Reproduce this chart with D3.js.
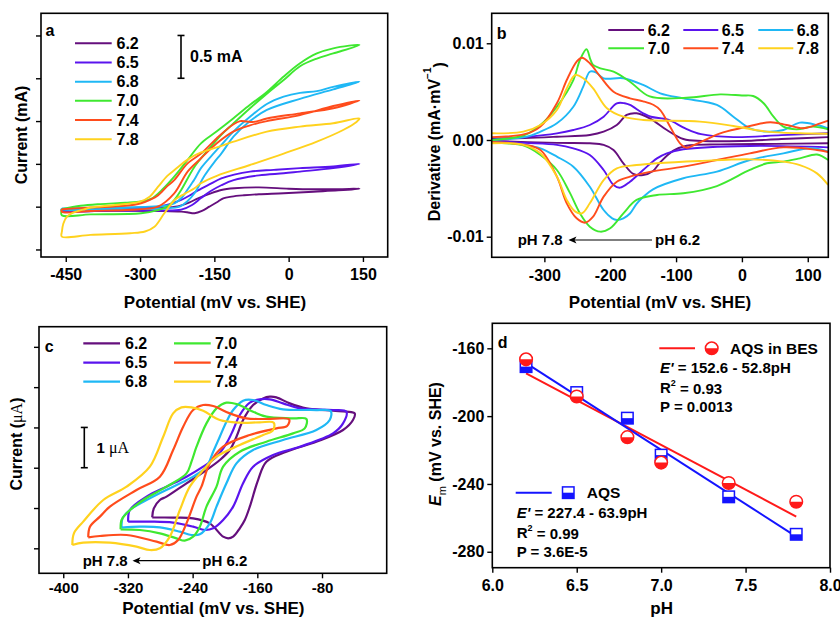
<!DOCTYPE html>
<html><head><meta charset="utf-8">
<script src="https://cdn.jsdelivr.net/npm/d3@7"></script>
<style>
body{margin:0;background:#fff}
svg text{font-family:"Liberation Sans",Arial,sans-serif;font-weight:bold;fill:#000}
</style>
</head><body>
<svg id="chart" width="840" height="618"></svg>
<script>
// ---------------- DATA ----------------
const phLabels = ["6.2","6.5","6.8","7.0","7.4","7.8"];

// Panel a: CV loops (mV vs SHE, mA) - forward branch then return branch
const aCV62 = [[-458,-0.035],[-350,-0.03],[-270,-0.02],[-244,-0.01],[-220,0.01],[-200,0.05],[-183,0.098],[-160,0.15],[-136,0.195],[-110,0.215],[-60,0.225],[0,0.21],[50,0.203],[100,0.205],[143,0.21],
  [100,0.19],[50,0.175],[-10,0.156],[-60,0.145],[-90,0.133],[-115,0.118],[-132,0.098],[-143,0.058],[-160,0.0],[-175,-0.05],[-190,-0.077],[-205,-0.065],[-217,-0.058],[-250,-0.05],[-350,-0.047],[-458,-0.045]];
const aCV65 = [[-458,-0.03],[-350,-0.02],[-290,-0.01],[-264,0.0],[-240,0.03],[-217,0.078],[-200,0.13],[-183,0.19],[-160,0.26],[-136,0.33],[-110,0.375],[-78,0.41],[-30,0.43],[23,0.45],[90,0.47],[143,0.5],
  [90,0.45],[23,0.41],[-10,0.39],[-60,0.365],[-111,0.31],[-136,0.25],[-158,0.18],[-177,0.1],[-195,0.02],[-217,-0.035],[-260,-0.045],[-350,-0.045],[-458,-0.045]];
const aCV68 = [[-458,-0.02],[-350,-0.01],[-280,0.0],[-250,0.01],[-230,0.04],[-215,0.11],[-204,0.2],[-190,0.32],[-177,0.45],[-150,0.63],[-136,0.72],[-111,0.88],[-78,1.05],[-44,1.2],[-10,1.285],[23,1.33],[57,1.35],[90,1.4],[143,1.46],
  [90,1.37],[23,1.26],[-44,1.13],[-78,1.0],[-111,0.82],[-136,0.62],[-150,0.52],[-170,0.36],[-190,0.156],[-205,0.06],[-220,0.0],[-250,-0.02],[-350,-0.03],[-458,-0.03]];
const aCV70 = [[-458,-0.03],[-420,0.01],[-380,0.03],[-330,0.045],[-298,0.06],[-278,0.09],[-255,0.2],[-231,0.35],[-204,0.545],[-177,0.74],[-145,0.88],[-112,1.03],[-78,1.19],[-44,1.34],[-10,1.52],[23,1.675],[57,1.79],[90,1.85],[143,1.89],
  [90,1.79],[57,1.73],[23,1.64],[-10,1.48],[-44,1.32],[-78,1.15],[-112,0.97],[-136,0.84],[-163,0.66],[-190,0.467],[-217,0.195],[-231,0.078],[-245,0.0],[-264,-0.04],[-298,-0.077],[-400,-0.09],[-458,-0.1]];
const aCV74 = [[-458,-0.03],[-400,-0.01],[-330,0.01],[-298,0.04],[-280,0.08],[-264,0.13],[-245,0.24],[-231,0.31],[-204,0.506],[-177,0.62],[-145,0.8],[-112,0.96],[-98,1.0],[-85,0.995],[-70,0.99],[-44,1.03],[23,1.09],[90,1.15],[143,1.24],
  [90,1.176],[23,1.07],[-44,1.0],[-78,0.95],[-112,0.876],[-145,0.74],[-177,0.565],[-204,0.41],[-231,0.156],[-264,0.0],[-300,-0.03],[-400,-0.05],[-458,-0.06]];
const aCV78 = [[-458,-0.30],[-455,-0.2],[-448,-0.12],[-435,-0.07],[-415,-0.035],[-399,-0.01],[-350,0.02],[-300,0.06],[-280,0.12],[-264,0.23],[-245,0.36],[-230,0.43],[-204,0.55],[-178,0.63],[-136,0.71],[-111,0.76],[-44,0.876],[23,0.935],[90,0.975],[143,1.03],
  [137,0.99],[110,0.896],[57,0.76],[-10,0.62],[-78,0.487],[-145,0.36],[-178,0.27],[-190,0.215],[-210,0.15],[-230,0.078],[-251,-0.077],[-271,-0.234],[-290,-0.29],[-320,-0.31],[-400,-0.33],[-458,-0.35]];
const aXTicks = [-450,-300,-150,0,150];
const aYTicks = [-0.5,0,0.5,1.0,1.5,2.0];

// Panel b: derivative (mV, value x 1e-3 mA/mV), upper and lower branches
const b62up = [[-380,0.15],[-330,0.2],[-281,0.34],[-231,0.52],[-210,0.86],[-190,1.55],[-175,2.59],[-160,2.76],[-140,2.24],[-114,1.03],[-89,0.1],[-60,-0.1],[0,-0.1],[60,0.1],[131,0.3]];
const b62dn = [[-380,-0.1],[-281,-0.3],[-231,-0.34],[-210,-0.5],[-195,-1.03],[-180,-2.41],[-165,-3.5],[-150,-3.62],[-135,-3.2],[-124,-2.3],[-104,-1.1],[-84,-0.6],[-33,-0.45],[50,-0.4],[131,-0.34]];
const b65up = [[-380,0.05],[-330,0.3],[-281,0.69],[-256,1.03],[-231,1.55],[-210,2.41],[-190,3.79],[-178,3.8],[-170,3.62],[-150,2.76],[-138,2.4],[-112,2.1],[-86,1.2],[-62,0.6],[-13,0.3],[60,0.5],[131,0.7]];
const b65dn = [[-380,-0.1],[-330,-0.3],[-281,-0.5],[-256,-0.86],[-231,-1.55],[-210,-3.1],[-195,-4.65],[-185,-4.93],[-170,-4.31],[-150,-3.1],[-129,-1.9],[-114,-1.38],[-89,-0.96],[12,-0.62],[131,-0.76]];
const b68up = [[-380,0.0],[-330,0.3],[-306,0.86],[-281,1.72],[-256,3.44],[-241,5.51],[-231,7.06],[-222,7.0],[-210,6.38],[-180,6.38],[-150,5.69],[-124,4.83],[-89,4.3],[-38,3.62],[-13,2.41],[12,1.21],[38,0.86],[63,1.03],[88,1.79],[114,1.55],[131,1.2]];
const b68dn = [[-380,-0.2],[-330,-0.5],[-306,-0.86],[-281,-1.72],[-256,-2.76],[-231,-4.83],[-210,-7.24],[-197,-8.1],[-190,-8.27],[-180,-8.1],[-170,-7.6],[-160,-6.6],[-150,-5.9],[-135,-5.1],[-89,-3.96],[-38,-3.27],[12,-2.07],[63,-1.38],[104,-0.86],[131,-1.2]];
const b70up = [[-380,0.0],[-330,0.5],[-306,1.55],[-281,3.44],[-256,6.2],[-246,8.27],[-236,9.38],[-230,8.3],[-226,7.76],[-215,7.41],[-195,7.07],[-170,6.03],[-140,4.5],[-84,4.37],[-33,4.72],[0,4.6],[17,4.55],[33,3.8],[48,2.41],[63,1.38],[83,1.1],[108,1.38],[131,1.1]];
const b70dn = [[-380,-0.3],[-330,-0.6],[-306,-1.55],[-281,-3.1],[-261,-5.5],[-246,-7.58],[-231,-8.96],[-215,-9.48],[-200,-9.13],[-180,-7.58],[-160,-6.2],[-129,-5.69],[-89,-5.51],[-38,-4.76],[12,-3.1],[38,-2.41],[63,-2.24],[88,-1.9],[114,-1.5],[131,-2.07]];
const b74up = [[-380,0.3],[-330,0.6],[-306,1.38],[-281,3.79],[-266,6.2],[-251,8.1],[-243,8.51],[-231,7.93],[-215,6.55],[-195,4.99],[-170,4.31],[-150,4.0],[-134,3.62],[-124,3.1],[-109,1.38],[-94,-0.34],[-84,-0.8],[-69,-0.4],[-33,0.69],[-3,1.21],[43,1.83],[68,1.55],[93,1.21],[119,1.72],[131,2.0]];
const b74dn = [[-380,-0.2],[-330,-0.5],[-306,-1.03],[-281,-3.79],[-266,-6.55],[-251,-8.1],[-238,-8.55],[-226,-7.93],[-210,-5.86],[-190,-4.31],[-170,-3.79],[-140,-3.3],[-89,-2.76],[-38,-2.07],[12,-1.38],[63,-0.76],[114,-1.03],[131,-1.24]];
const b78up = [[-380,0.69],[-332,0.86],[-306,1.55],[-281,3.1],[-266,5.34],[-253,6.72],[-241,6.38],[-226,5.34],[-205,3.28],[-180,2.41],[-150,2.07],[-64,1.9],[-13,1.45],[38,0.86],[88,0.69],[131,0.65]];
const b78dn = [[-380,-0.34],[-332,-0.5],[-306,-1.38],[-281,-3.79],[-266,-6.2],[-253,-7.41],[-243,-7.58],[-231,-6.55],[-210,-4.14],[-190,-2.93],[-160,-2.59],[-129,-2.4],[-64,-2.17],[12,-2.0],[63,-2.24],[88,-2.6],[114,-3.45],[131,-4.65]];
const bXTicks = [-300,-200,-100,0,100];
const bYTicks = [0.01,0.0,-0.01];
const bYTickLabels = ["0.01","0.00","-0.01"];

// Panel c: CV loops (mV vs SHE, uA)
const cCV62 = [[-290.0,0.769],[-288.0,0.992],[-280.5,1.199],[-272.3,1.282],[-247.6,1.613],[-222.9,1.943],[-206.4,2.191],[-194.1,2.44],[-185.8,2.77],[-177.6,3.184],[-165.2,3.556],[-152.9,3.721],[-144.6,3.763],[-136.4,3.746],[-119.9,3.597],[-99.3,3.473],[-66.4,3.415],[-49.9,3.391],[-39.6,3.349],
  [-41.7,3.184],[-54.0,2.936],[-87.0,2.646],[-124.1,2.398],[-148.8,2.15],[-159.1,1.695],[-169.3,1.034],[-175.5,0.703],[-181.7,0.496],[-189.9,0.289],[-196.1,0.248],[-202.3,0.289],[-218.8,0.62],[-239.4,0.744],[-264.1,0.761]];
const cCV65 = [[-319.7,0.662],[-317.6,0.951],[-297.0,1.282],[-272.3,1.53],[-247.6,1.778],[-227.0,2.026],[-210.5,2.274],[-198.2,2.605],[-189.9,2.936],[-181.7,3.308],[-169.3,3.614],[-157.0,3.697],[-144.6,3.697],[-128.2,3.597],[-107.6,3.473],[-66.4,3.432],[-49.9,3.391],
  [-54.0,3.101],[-66.4,2.853],[-107.6,2.522],[-140.5,2.315],[-165.2,2.026],[-177.6,1.613],[-189.9,1.034],[-202.3,0.703],[-214.6,0.496],[-224.9,0.455],[-239.4,0.537],[-264.1,0.637],[-292.9,0.662]];
const cCV68 = [[-327.9,0.513],[-326.7,0.744],[-317.6,0.951],[-292.9,1.24],[-264.1,1.53],[-239.4,1.778],[-222.9,2.026],[-214.6,2.398],[-206.4,2.77],[-198.2,3.142],[-189.9,3.432],[-177.6,3.664],[-165.2,3.68],[-148.8,3.556],[-128.2,3.448],[-87.0,3.432],[-69.3,3.407],
  [-70.5,3.184],[-87.0,2.936],[-128.2,2.688],[-165.2,2.44],[-185.8,2.109],[-198.2,1.613],[-210.5,1.034],[-218.8,0.62],[-231.1,0.347],[-241.4,0.331],[-255.8,0.413],[-280.5,0.521],[-305.2,0.537]];
const cCV70 = [[-329.1,0.471],[-327.9,0.703],[-321.7,0.868],[-301.1,1.199],[-272.3,1.53],[-247.6,1.861],[-241.4,2.15],[-235.2,2.522],[-222.9,3.101],[-210.5,3.473],[-198.2,3.614],[-185.8,3.581],[-165.2,3.391],[-148.8,3.267],[-115.8,3.225],[-99.3,3.209],
  [-101.4,2.977],[-115.8,2.853],[-148.8,2.646],[-181.7,2.398],[-202.3,2.026],[-210.5,1.53],[-222.9,1.034],[-231.1,0.537],[-239.4,0.289],[-249.7,0.19],[-260.0,0.248],[-280.5,0.372],[-305.2,0.455]];
const cCV74 = [[-369.1,0.273],[-367.0,0.537],[-354.7,0.786],[-342.3,1.034],[-309.4,1.447],[-280.5,1.778],[-264.1,2.44],[-251.7,3.018],[-239.4,3.432],[-227.0,3.556],[-214.6,3.531],[-194.1,3.349],[-173.5,3.225],[-148.8,3.209],[-120.7,3.2],
  [-123.2,3.035],[-136.4,2.977],[-169.3,2.812],[-202.3,2.522],[-218.8,2.109],[-229.1,1.53],[-235.2,1.282],[-247.6,0.62],[-257.9,0.207],[-268.2,0.083],[-284.6,0.165],[-321.7,0.331],[-354.7,0.306]];
const cCV78 = [[-388.8,0.083],[-386.8,0.372],[-375.3,0.662],[-350.5,1.199],[-321.7,1.53],[-292.9,2.026],[-276.4,2.77],[-264.1,3.349],[-253.8,3.498],[-241.4,3.498],[-227.0,3.415],[-206.4,3.184],[-181.7,3.118],[-157.0,3.126],[-139.7,3.118],
  [-140.5,2.936],[-152.9,2.812],[-181.7,2.564],[-210.5,2.274],[-227.0,1.943],[-243.5,1.53],[-255.8,0.951],[-268.2,0.289],[-280.5,0.0],[-292.9,-0.042],[-309.4,0.041],[-342.3,0.141],[-375.3,0.141]];
const cXTicks = [-400,-320,-240,-160,-80];
const cYTicks = [0,1,2,3,4,5];

// Panel d: midpoint potentials vs pH
const dPH = [6.2,6.5,6.8,7.0,7.4,7.8];
const dBES = [-166.5,-188.4,-212.4,-227.4,-239.4,-250.5];
const dAQS = [-170.8,-186.1,-201.2,-223.0,-247.6,-269.7];
const fitBES = {a:152.6, b:-52.8};
const fitAQS = {a:227.4, b:-63.9};
const dXTicks = [6.0,6.5,7.0,7.5,8.0];
const dYTicks = [-160,-200,-240,-280];

// ---------------- STYLE ----------------
const colors = ["#650f7d","#5a14ee","#1fb8f5","#3fe830","#ff4c1c","#ffd21e"];
const FONT = '"Liberation Sans",Arial,sans-serif';
const svg = d3.select("#chart");
const defs = svg.append("defs");
const smooth = d3.line().curve(d3.curveCatmullRom.alpha(0.5));

function clip(id, x, y) {
  defs.append("clipPath").attr("id", id).append("rect")
    .attr("x", x.range()[0]).attr("y", y.range()[1])
    .attr("width", x.range()[1]-x.range()[0]).attr("height", y.range()[0]-y.range()[1]);
}
function frame(x, y) {
  svg.append("rect").attr("x", x.range()[0]).attr("y", y.range()[1])
    .attr("width", x.range()[1]-x.range()[0]).attr("height", y.range()[0]-y.range()[1])
    .attr("fill","none").attr("stroke","#000").attr("stroke-width",1.6);
}
function styleAxis(g, fs) {
  g.select(".domain").remove();
  g.selectAll("line").attr("stroke","#000").attr("stroke-width",1.4);
  g.selectAll("text").attr("font-size",fs).attr("font-family",FONT).attr("font-weight","bold").attr("fill","#000");
}
function xAxis(x, y, ticks, pad, fs, fmt) {
  const g = svg.append("g").attr("transform",`translate(0,${y.range()[0]})`)
    .call(d3.axisBottom(x).tickValues(ticks).tickSize(5).tickPadding(pad).tickFormat(fmt || (d=>String(d))));
  styleAxis(g, fs);
}
function yAxis(x, y, ticks, fmt, fs) {
  const g = svg.append("g").attr("transform",`translate(${x.range()[0]},0)`)
    .call(d3.axisLeft(y).tickValues(ticks).tickSize(5).tickPadding(3).tickFormat(fmt || (()=> "")));
  styleAxis(g, fs);
}
function label(x, y, txt, fs, anchor) {
  return svg.append("text").attr("x",x).attr("y",y).attr("dy","0.35em")
    .attr("font-size",fs).attr("text-anchor",anchor||"start").text(txt);
}
function yTitle(x, y, fs) {
  return svg.append("text").attr("transform",`translate(${x},${y}) rotate(-90)`)
    .attr("dy","0.35em").attr("font-size",fs).attr("text-anchor","middle");
}
function closeLoop(arr){ return arr.concat([arr[0]]); }
function arrow(x1, x2, yv) {
  svg.append("line").attr("x1",x1).attr("x2",x2+2).attr("y1",yv).attr("y2",yv).attr("stroke","#000").attr("stroke-width",1.2);
  svg.append("path").attr("d",`M${x2},${yv} L${x2+8},${yv-3.5} L${x2+6},${yv} L${x2+8},${yv+3.5} Z`).attr("fill","#000");
}

// ---------------- PANEL A ----------------
{
  const x = d3.scaleLinear().domain([-500,200]).range([41,387.7]);
  const y = d3.scaleLinear().domain([-0.588,2.259]).range([257,13.3]);
  clip("clipA", x, y);
  const loops = [aCV62,aCV65,aCV68,aCV70,aCV74,aCV78];
  const g = svg.append("g").attr("clip-path","url(#clipA)");
  loops.forEach((L,i)=>{
    g.append("path").attr("d", smooth(closeLoop(L).map(p=>[x(p[0]),y(p[1])])))
      .attr("fill","none").attr("stroke",colors[i]).attr("stroke-width",1.9);
  });
  frame(x,y);
  xAxis(x,y,aXTicks,7,16);
  yAxis(x,y,aYTicks,null,16);
  label(50,30,"a",16,"middle");
  const rows = [43.3,62.5,81.7,100.8,120,139.3];
  phLabels.forEach((t,i)=>{
    svg.append("line").attr("x1",75).attr("x2",111.7).attr("y1",rows[i]).attr("y2",rows[i]).attr("stroke",colors[i]).attr("stroke-width",2);
    label(116.5,rows[i],t,16);
  });
  // scale bar 0.5 mA
  const sx = 181, s0 = y(1.5), s1 = y(2.0);
  svg.append("line").attr("x1",sx).attr("x2",sx).attr("y1",s0).attr("y2",s1).attr("stroke","#000").attr("stroke-width",1.6);
  [s0,s1].forEach(v=>svg.append("line").attr("x1",sx-3.5).attr("x2",sx+3.5).attr("y1",v).attr("y2",v).attr("stroke","#000").attr("stroke-width",1.6));
  label(190,(s0+s1)/2,"0.5 mA",16);
  label(215,301.7,"Potential (mV vs. SHE)",17,"middle");
  yTitle(21.7,135,16).text("Current (mA)");
}

// ---------------- PANEL B ----------------
{
  const x = d3.scaleLinear().domain([-380,131.2]).range([491.7,828.3]);
  const y = d3.scaleLinear().domain([-0.01213,0.0131]).range([257.3,13.3]);
  clip("clipB", x, y);
  const g = svg.append("g").attr("clip-path","url(#clipB)");
  const ups = [b62up,b65up,b68up,b70up,b74up,b78up];
  const dns = [b62dn,b65dn,b68dn,b70dn,b74dn,b78dn];
  [0,1,2,3,4,5].forEach(i=>{
    [ups[i],dns[i]].forEach(L=>{
      g.append("path").attr("d", smooth(L.map(p=>[x(p[0]),y(p[1]*1e-3)])))
        .attr("fill","none").attr("stroke",colors[i]).attr("stroke-width",1.9);
    });
  });
  frame(x,y);
  xAxis(x,y,bXTicks,7,16);
  yAxis(x,y,bYTicks,(d,i)=>bYTickLabels[i],16);
  label(501.7,33,"b",16,"middle");
  const lx = [[608.3,644,647.7],[683.3,718.3,721.7],[758.3,793.3,796.7]];
  const ly = [30,48.3];
  phLabels.forEach((t,i)=>{
    const c = lx[i%3], r = ly[Math.floor(i/3)];
    svg.append("line").attr("x1",c[0]).attr("x2",c[1]).attr("y1",r).attr("y2",r).attr("stroke",colors[i]).attr("stroke-width",2);
    label(c[2],r,t,16);
  });
  label(517.7,240,"pH 7.8",15);
  arrow(652,568.5,240);
  label(655,240,"pH 6.2",15);
  label(660,301.7,"Potential (mV vs. SHE)",17,"middle");
  const t = yTitle(434,141.7,16);
  t.append("tspan").text("Derivative (mA·mV");
  t.append("tspan").attr("font-size",10).attr("dy","-0.9em").text("−1");
  t.append("tspan").attr("dy","0.9em").attr("font-size",16).text(")");
}

// ---------------- PANEL C ----------------
{
  const x = d3.scaleLinear().domain([-430,0]).range([39,386.7]);
  const y = d3.scaleLinear().domain([-0.62,5.5]).range([573.3,326.7]);
  clip("clipC", x, y);
  const g = svg.append("g").attr("clip-path","url(#clipC)");
  const loops = [cCV62,cCV65,cCV68,cCV70,cCV74,cCV78];
  loops.forEach((L,i)=>{
    g.append("path").attr("d", smooth(closeLoop(L).map(p=>[x(p[0]),y(p[1])])))
      .attr("fill","none").attr("stroke",colors[i]).attr("stroke-width",2.2);
  });
  frame(x,y);
  xAxis(x,y,cXTicks,4,15);
  yAxis(x,y,cYTicks,null,15);
  label(49.3,346.7,"c",16,"middle");
  const rows = [343.3,362.7,381.7];
  phLabels.forEach((t,i)=>{
    const col = Math.floor(i/3), r = rows[i%3];
    const x1 = col ? 174 : 83.3, x2 = col ? 210.7 : 120, tx = col ? 215 : 125;
    svg.append("line").attr("x1",x1).attr("x2",x2).attr("y1",r).attr("y2",r).attr("stroke",colors[i]).attr("stroke-width",2.2);
    label(tx,r,t,16);
  });
  // scale bar 1 uA
  const sx = 84.3, s0 = y(2), s1 = y(3);
  svg.append("line").attr("x1",sx).attr("x2",sx).attr("y1",s0).attr("y2",s1).attr("stroke","#000").attr("stroke-width",1.6);
  [s0,s1].forEach(v=>svg.append("line").attr("x1",sx-3.5).attr("x2",sx+3.5).attr("y1",v).attr("y2",v).attr("stroke","#000").attr("stroke-width",1.6));
  const sb = label(96.5,(s0+s1)/2,"",15);
  sb.append("tspan").text("1 ");
  sb.append("tspan").attr("font-family",'"Liberation Serif","Times New Roman",serif').attr("font-weight","normal").attr("font-size",16).text("μA");
  label(82.7,560.7,"pH 7.8",15);
  arrow(200,132.5,560.7);
  label(202.3,560.7,"pH 6.2",15);
  label(213.3,608.5,"Potential (mV vs. SHE)",17,"middle");
  const t = yTitle(16.5,444,16);
  t.append("tspan").text("Current (");
  t.append("tspan").attr("font-family",'"Liberation Serif","Times New Roman",serif').attr("font-weight","normal").text("μA");
  t.append("tspan").text(")");
}

// ---------------- PANEL D ----------------
{
  const x = d3.scaleLinear().domain([6,8]).range([492.3,830]);
  const y = d3.scaleLinear().domain([-289.4,-145.25]).range([567.7,323.3]);
  clip("clipD", x, y);
  const red = "#ff1a1a", blue = "#1414ff";
  const g = svg.append("g").attr("clip-path","url(#clipD)");
  const x0 = dPH[0], x1 = dPH[dPH.length-1];
  g.append("line").attr("x1",x(x0)).attr("x2",x(x1)).attr("y1",y(fitBES.a+fitBES.b*x0)).attr("y2",y(fitBES.a+fitBES.b*x1)).attr("stroke",red).attr("stroke-width",2);
  g.append("line").attr("x1",x(x0)).attr("x2",x(x1)).attr("y1",y(fitAQS.a+fitAQS.b*x0)).attr("y2",y(fitAQS.a+fitAQS.b*x1)).attr("stroke",blue).attr("stroke-width",2);

  function square(cx, cy, s) {
    g.append("rect").attr("x",cx-s/2).attr("y",cy-s/2).attr("width",s).attr("height",s).attr("fill","#fff");
    g.append("rect").attr("x",cx-s/2).attr("y",cy).attr("width",s).attr("height",s/2).attr("fill",blue);
    g.append("rect").attr("x",cx-s/2).attr("y",cy-s/2).attr("width",s).attr("height",s).attr("fill","none").attr("stroke",blue).attr("stroke-width",1.5);
  }
  function circle(cx, cy, r) {
    g.append("circle").attr("cx",cx).attr("cy",cy).attr("r",r).attr("fill","#fff");
    g.append("path").attr("d",`M${cx-r},${cy} A${r},${r} 0 0 0 ${cx+r},${cy} Z`).attr("fill",red);
    g.append("circle").attr("cx",cx).attr("cy",cy).attr("r",r).attr("fill","none").attr("stroke",red).attr("stroke-width",1.5);
  }
  dPH.forEach((p,i)=>square(x(p),y(dAQS[i]),11.5));
  dPH.forEach((p,i)=>circle(x(p),y(dBES[i]),6.3));
  frame(x,y);
  xAxis(x,y,dXTicks,6.5,16,d3.format(".1f"));
  yAxis(x,y,dYTicks,d=>String(d),16);
  label(502.7,342.7,"d",16,"middle");

  svg.append("line").attr("x1",659.3).attr("x2",695).attr("y1",348.3).attr("y2",348.3).attr("stroke",red).attr("stroke-width",2);
  svg.append("circle").attr("cx",711.7).attr("cy",348.3).attr("r",6.3).attr("fill","#fff");
  svg.append("path").attr("d",`M${711.7-6.3},348.3 A6.3,6.3 0 0 0 ${711.7+6.3},348.3 Z`).attr("fill",red);
  svg.append("circle").attr("cx",711.7).attr("cy",348.3).attr("r",6.3).attr("fill","none").attr("stroke",red).attr("stroke-width",1.5);
  label(730,348.3,"AQS in BES",15.5);

  svg.append("line").attr("x1",515.7).attr("x2",551.7).attr("y1",492.7).attr("y2",492.7).attr("stroke",blue).attr("stroke-width",2);
  svg.append("rect").attr("x",562.5).attr("y",486.9).attr("width",11.5).attr("height",11.5).attr("fill","#fff");
  svg.append("rect").attr("x",562.5).attr("y",492.7).attr("width",11.5).attr("height",5.75).attr("fill",blue);
  svg.append("rect").attr("x",562.5).attr("y",486.9).attr("width",11.5).attr("height",11.5).attr("fill","none").attr("stroke",blue).attr("stroke-width",1.5);
  label(586.7,492.7,"AQS",15.5);

  function eqBlock(x0, ys, fit, r2, p) {
    const e = label(x0, ys[0], "", 15);
    e.append("tspan").attr("font-style","italic").text("E'");
    e.append("tspan").text(` = ${fit.a} - ${Math.abs(fit.b)}pH`);
    const r = label(x0, ys[1], "", 15);
    r.append("tspan").text("R");
    r.append("tspan").attr("font-size",9).attr("dy","-0.8em").text("2");
    r.append("tspan").attr("font-size",15).attr("dy","0.53em").text(` = ${r2}`);
    label(x0, ys[2], `P = ${p}`, 15);
  }
  eqBlock(660, [367.7,387.7,406.7], fitBES, "0.93", "0.0013");
  eqBlock(516.7, [512.3,532.7,551.7], fitAQS, "0.99", "3.6E-5");

  label(661.7,608.5,"pH",17,"middle");
  const t = yTitle(435,444,16);
  t.append("tspan").attr("font-style","italic").text("E");
  t.append("tspan").attr("font-size",11).attr("font-weight","normal").attr("dy","0.45em").text("m");
  t.append("tspan").attr("dy","-0.3em").text(" (mV vs. SHE)");
}
</script>
</body></html>
